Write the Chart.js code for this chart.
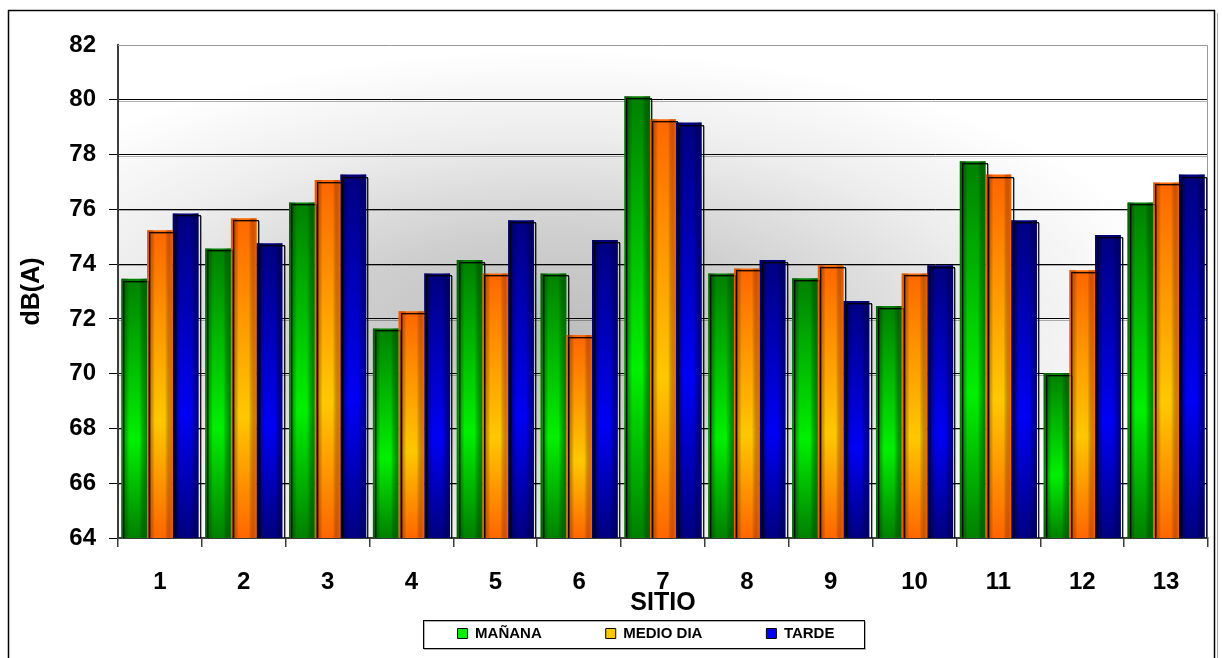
<!DOCTYPE html>
<html>
<head>
<meta charset="utf-8">
<script src="https://cdn.jsdelivr.net/npm/chart.js@4/dist/chart.umd.min.js"></script>
<style>
  html, body { margin: 0; padding: 0; background: #ffffff; }
  #wrap { width: 1222px; height: 658px; position: relative; }
</style>
</head>
<body>
<div id="wrap"><canvas id="chart" width="1222" height="658"></canvas></div>
<script>
// Noise level per site (dB(A)) at three times of day
const sitios   = ['1', '2', '3', '4', '5', '6', '7', '8', '9', '10', '11', '12', '13'];
const manana   = [73.47, 74.57, 76.25, 71.65, 74.15, 73.66, 80.13, 73.66, 73.48, 72.47, 77.76, 70.02, 76.25];
const medioDia = [75.24, 75.67, 77.07, 72.28, 73.66, 71.41, 79.29, 73.84, 73.96, 73.66, 77.27, 73.78, 76.98];
const tarde    = [75.85, 74.76, 77.27, 73.66, 75.60, 74.88, 79.17, 74.15, 72.65, 73.96, 75.60, 75.06, 77.27];
const yMin = 64, yMax = 82, yStep = 2;

const FONT = '"Liberation Sans", Arial, sans-serif';
const LEGEND_PAD = 64;

// vertical shading of each bar: dark at the top, bright toward the lower part, dark at the base
function barFill(dark, light) {
  return (ctx) => {
    const chart = ctx.chart;
    if (!chart.chartArea || ctx.type !== 'data') return light;
    const y = chart.scales.y;
    const top = y.getPixelForValue(ctx.raw);
    const bottom = y.getPixelForValue(y.min);
    if (!isFinite(top) || !isFinite(bottom) || bottom - top < 1) return dark;
    const g = chart.ctx.createLinearGradient(0, top, 0, bottom);
    g.addColorStop(0, dark);
    g.addColorStop(0.62, light);
    g.addColorStop(1, dark);
    return g;
  };
}

const palette = [
  { dark: '#008000', light: '#00f000', edge: 'rgba(0,100,0,0.75)' },
  { dark: '#ff6600', light: '#ffc800', edge: 'rgba(255,96,0,0.8)' },
  { dark: '#000080', light: '#0000f5', edge: 'rgba(0,0,110,0.75)' }
];

// background of the plot, outer frame and grid shadows
const frameAndBackground = {
  id: 'frameAndBackground',
  beforeDraw(chart) {
    const { ctx, chartArea: a } = chart;
    ctx.save();
    ctx.fillStyle = '#ffffff';
    ctx.fillRect(0, 0, chart.width, chart.height);
    // outer frame with a soft right shadow
    ctx.strokeStyle = 'rgba(0,0,0,0.35)';
    ctx.lineWidth = 1;
    ctx.beginPath(); ctx.moveTo(1217.5, 13); ctx.lineTo(1217.5, 700); ctx.stroke();
    ctx.strokeStyle = '#000000';
    ctx.lineWidth = 1.5;
    ctx.strokeRect(8.5, 10.5, 1206, 700);
    // elliptical grey haze inside the plot area
    const cx = a.left + (a.right - a.left) * 0.4;
    const cy = a.top + (a.bottom - a.top) * 0.58;
    const s = 0.44;
    ctx.save();
    ctx.beginPath();
    ctx.rect(a.left, a.top, a.right - a.left, a.bottom - a.top);
    ctx.clip();
    ctx.translate(cx, cy);
    ctx.scale(1, s);
    const g = ctx.createRadialGradient(0, 0, 0, 0, 0, 640);
    g.addColorStop(0, '#bdbdbd');
    g.addColorStop(0.35, '#cfcfcf');
    g.addColorStop(0.7, '#ededed');
    g.addColorStop(1, '#ffffff');
    ctx.fillStyle = g;
    ctx.fillRect(a.left - cx, (a.top - cy) / s, a.right - a.left, (a.bottom - a.top) / s);
    ctx.restore();
    ctx.restore();
  },
  beforeDatasetsDraw(chart) {
    const { ctx, chartArea: a, scales } = chart;
    ctx.save();
    // grey shadow under each horizontal grid line
    ctx.strokeStyle = 'rgba(0,0,0,0.3)';
    ctx.lineWidth = 1;
    scales.y.ticks.forEach(t => {
      if (t.value <= yMin || t.value >= yMax) return;
      const py = Math.round(scales.y.getPixelForValue(t.value)) + 1.5;
      ctx.beginPath(); ctx.moveTo(a.left, py); ctx.lineTo(a.right, py); ctx.stroke();
    });
    // plot border (top and right)
    ctx.strokeStyle = '#9a9a9a';
    ctx.beginPath();
    ctx.moveTo(a.left, Math.round(a.top) + 0.5);
    ctx.lineTo(Math.round(a.right) - 0.5, Math.round(a.top) + 0.5);
    ctx.lineTo(Math.round(a.right) - 0.5, a.bottom);
    ctx.stroke();
    ctx.restore();
  }
};

// horizontal edge shading and the offset outline around every bar
const barDecor = {
  id: 'barDecor',
  afterDatasetsDraw(chart) {
    const { ctx, chartArea: a } = chart;
    ctx.save();
    ctx.beginPath();
    ctx.rect(a.left, a.top, a.right - a.left + 4, a.bottom - a.top);
    ctx.clip();
    chart.data.datasets.forEach((ds, i) => {
      const meta = chart.getDatasetMeta(i);
      const edge = palette[i].edge;
      meta.data.forEach(bar => {
        const p = bar.getProps(['x', 'y', 'base', 'width'], true);
        const left = p.x - p.width / 2;
        const h = p.base - p.y;
        const g = ctx.createLinearGradient(left, 0, left + p.width, 0);
        g.addColorStop(0, edge);
        g.addColorStop(0.3, 'rgba(0,0,0,0)');
        g.addColorStop(0.7, 'rgba(0,0,0,0)');
        g.addColorStop(1, edge);
        ctx.fillStyle = g;
        ctx.fillRect(left, p.y, p.width, h);
        // offset outline
        const L = Math.round(left) + 2.5, T = Math.round(p.y) + 2.5;
        const W = Math.round(p.width) - 1, H = Math.round(h);
        ctx.strokeStyle = 'rgba(0,0,0,0.35)';
        ctx.lineWidth = 1;
        ctx.strokeRect(L + 1, T + 1, W, H);
        ctx.strokeStyle = 'rgba(0,0,0,0.9)';
        ctx.strokeRect(L, T, W, H);
      });
    });
    ctx.restore();
  }
};

// compact single-row legend placed in a framed box
const legendBox = {
  id: 'legendBox',
  beforeLayout(chart) {
    const lg = chart.legend;
    if (lg && !lg.__compact) {
      const fit = lg.fit.bind(lg);
      lg.fit = function () { fit(); this.height = 36; };
      lg.__compact = true;
    }
  },
  afterLayout(chart) {
    const lg = chart.legend;
    if (!lg) return;
    const dy = LEGEND_PAD - 8;
    const dx = 42;
    lg.top -= dy;               // rows start at top + padding; bottom is kept so nothing is clipped
    lg.left += dx; lg.right += dx;
  },
  afterDraw(chart) {
    const lg = chart.legend;
    if (!lg || !lg.legendHitBoxes || !lg.legendHitBoxes.length) return;
    const boxes = lg.legendHitBoxes;
    const first = boxes[0], last = boxes[boxes.length - 1];
    const ctx = chart.ctx;
    const x0 = Math.round(first.left) - 34.5;
    const x1 = Math.round(last.left + last.width) + 30.5;
    const y0 = 620.5, y1 = 648.5;
    ctx.save();
    ctx.strokeStyle = 'rgba(0,0,0,0.3)';
    ctx.lineWidth = 1;
    ctx.strokeRect(x0 + 1, y0 + 1, x1 - x0, y1 - y0);
    ctx.strokeStyle = '#000000';
    ctx.strokeRect(x0, y0, x1 - x0, y1 - y0);
    ctx.restore();
  }
};

const seriesNames = ['MAÑANA', 'MEDIO DIA', 'TARDE'];
const seriesValues = [manana, medioDia, tarde];

new Chart(document.getElementById('chart'), {
  type: 'bar',
  data: {
    labels: sitios,
    datasets: seriesValues.map((vals, i) => ({
      label: seriesNames[i],
      data: vals,
      backgroundColor: barFill(palette[i].dark, palette[i].light),
      borderWidth: 0,
      categoryPercentage: 0.92,
      barPercentage: 1.0
    }))
  },
  options: {
    responsive: false,
    devicePixelRatio: 1,
    animation: false,
    layout: { padding: { left: 0, right: 14, top: 45, bottom: 4 } },
    plugins: {
      tooltip: { enabled: false },
      legend: {
        display: true,
        position: 'bottom',
        labels: {
          font: { family: FONT, size: 15, weight: 'bold' },
          color: '#000000',
          boxWidth: 10,
          boxHeight: 10,
          padding: LEGEND_PAD,
          generateLabels(chart) {
            return chart.data.datasets.map((ds, i) => ({
              text: ds.label,
              fillStyle: palette[i].light,
              strokeStyle: '#000000',
              lineWidth: 1,
              hidden: false,
              datasetIndex: i,
              fontColor: '#000000'
            }));
          }
        }
      }
    },
    scales: {
      x: {
        grid: {
          offset: true,
          drawOnChartArea: false,
          drawTicks: true,
          tickLength: 9,
          color: '#3c3c3c',
          lineWidth: 1.5
        },
        border: { display: true, color: '#3c3c3c', width: 2 },
        ticks: {
          font: { family: FONT, size: 24, weight: 'bold' },
          color: '#000000',
          padding: 21,
          maxRotation: 0
        },
        title: {
          display: true,
          text: 'SITIO',
          font: { family: FONT, size: 25, weight: 'bold' },
          color: '#000000',
          padding: { top: 0, bottom: 0 }
        },
        afterFit(scale) { scale.height = 80; }
      },
      y: {
        min: yMin,
        max: yMax,
        ticks: {
          stepSize: yStep,
          font: { family: FONT, size: 24, weight: 'bold' },
          color: '#000000',
          padding: 13
        },
        grid: {
          drawTicks: true,
          tickLength: 9,
          color: (c) => (c.tick && c.tick.value === yMax ? 'rgba(0,0,0,0)' : '#000000'),
          lineWidth: 1
        },
        border: { display: true, color: '#3c3c3c', width: 2 },
        title: {
          display: true,
          text: 'dB(A)',
          font: { family: FONT, size: 25, weight: 'bold' },
          color: '#000000',
          padding: { top: 17, bottom: 0 }
        },
        afterFit(scale) { scale.width = 118; }
      }
    }
  },
  plugins: [frameAndBackground, barDecor, legendBox]
});
</script>
</body>
</html>
